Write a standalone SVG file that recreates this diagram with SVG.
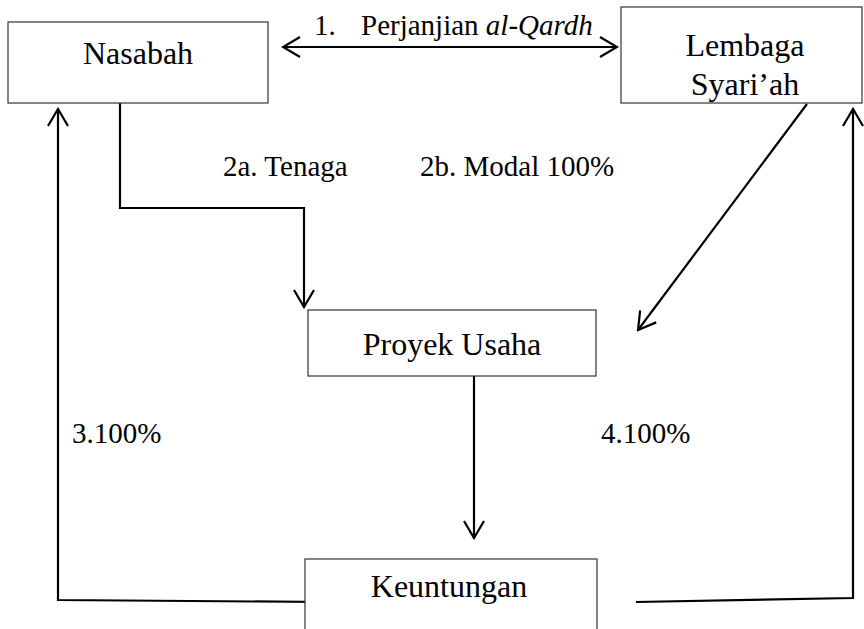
<svg xmlns="http://www.w3.org/2000/svg" width="864" height="629" viewBox="0 0 864 629">
<style>
.box{fill:#fff;stroke:#333;stroke-width:1.2}
.nt{font-size:32px;fill:#000;text-anchor:middle}
.lt{font-size:29px;fill:#000}
.c{fill:none;stroke:#000;stroke-width:2.2}
</style>
<defs>
<marker id="ah" markerUnits="userSpaceOnUse" viewBox="-20 -12 22 24" refX="0" refY="0" markerWidth="22" markerHeight="24" orient="auto-start-reverse">
<path d="M-17,-10 L0,0 L-17,10" fill="none" stroke="#000" stroke-width="2.2"/>
</marker>
</defs>
<rect width="864" height="629" fill="#fff"/>
<g id="connectors">
<line class="c" x1="283" y1="47" x2="617" y2="47" marker-start="url(#ah)" marker-end="url(#ah)"/>
<polyline class="c" points="120,103 120,208 304,208 304,307" marker-end="url(#ah)"/>
<line class="c" x1="807" y1="104" x2="638" y2="330" marker-end="url(#ah)"/>
<line class="c" x1="474" y1="366" x2="474" y2="538" marker-end="url(#ah)"/>
<polyline class="c" points="326,602 58,600 58,109" marker-end="url(#ah)"/>
<polyline class="c" points="636,602 853,598 853,109" marker-end="url(#ah)"/>
</g>
<g font-family="Liberation Serif, Tinos, DejaVu Serif, Times New Roman, serif">
<g id="nasabah">
<rect class="box" x="8" y="22" width="260" height="81"/>
<text class="nt" x="138" y="64">Nasabah</text>
</g>
<g id="lembaga">
<rect class="box" x="621" y="7" width="241" height="96"/>
<text class="nt" x="745" y="56">Lembaga</text>
<text class="nt" x="745" y="95">Syari’ah</text>
</g>
<g id="proyek">
<rect class="box" x="308" y="310" width="288" height="66"/>
<text class="nt" x="452" y="355">Proyek Usaha</text>
</g>
<g id="keuntungan">
<rect class="box" x="305" y="559" width="292" height="90"/>
<text class="nt" x="449" y="597">Keuntungan</text>
</g>
<g id="labels">
<text class="lt" x="314" y="35">1.</text>
<text class="lt" x="361" y="35">Perjanjian <tspan font-style="italic">al-Qardh</tspan></text>
<text class="lt" x="223" y="176">2a. Tenaga</text>
<text class="lt" x="420" y="176">2b. Modal 100%</text>
<text class="lt" x="72" y="443">3.100%</text>
<text class="lt" x="601" y="443">4.100%</text>
</g>
</g>
</svg>
